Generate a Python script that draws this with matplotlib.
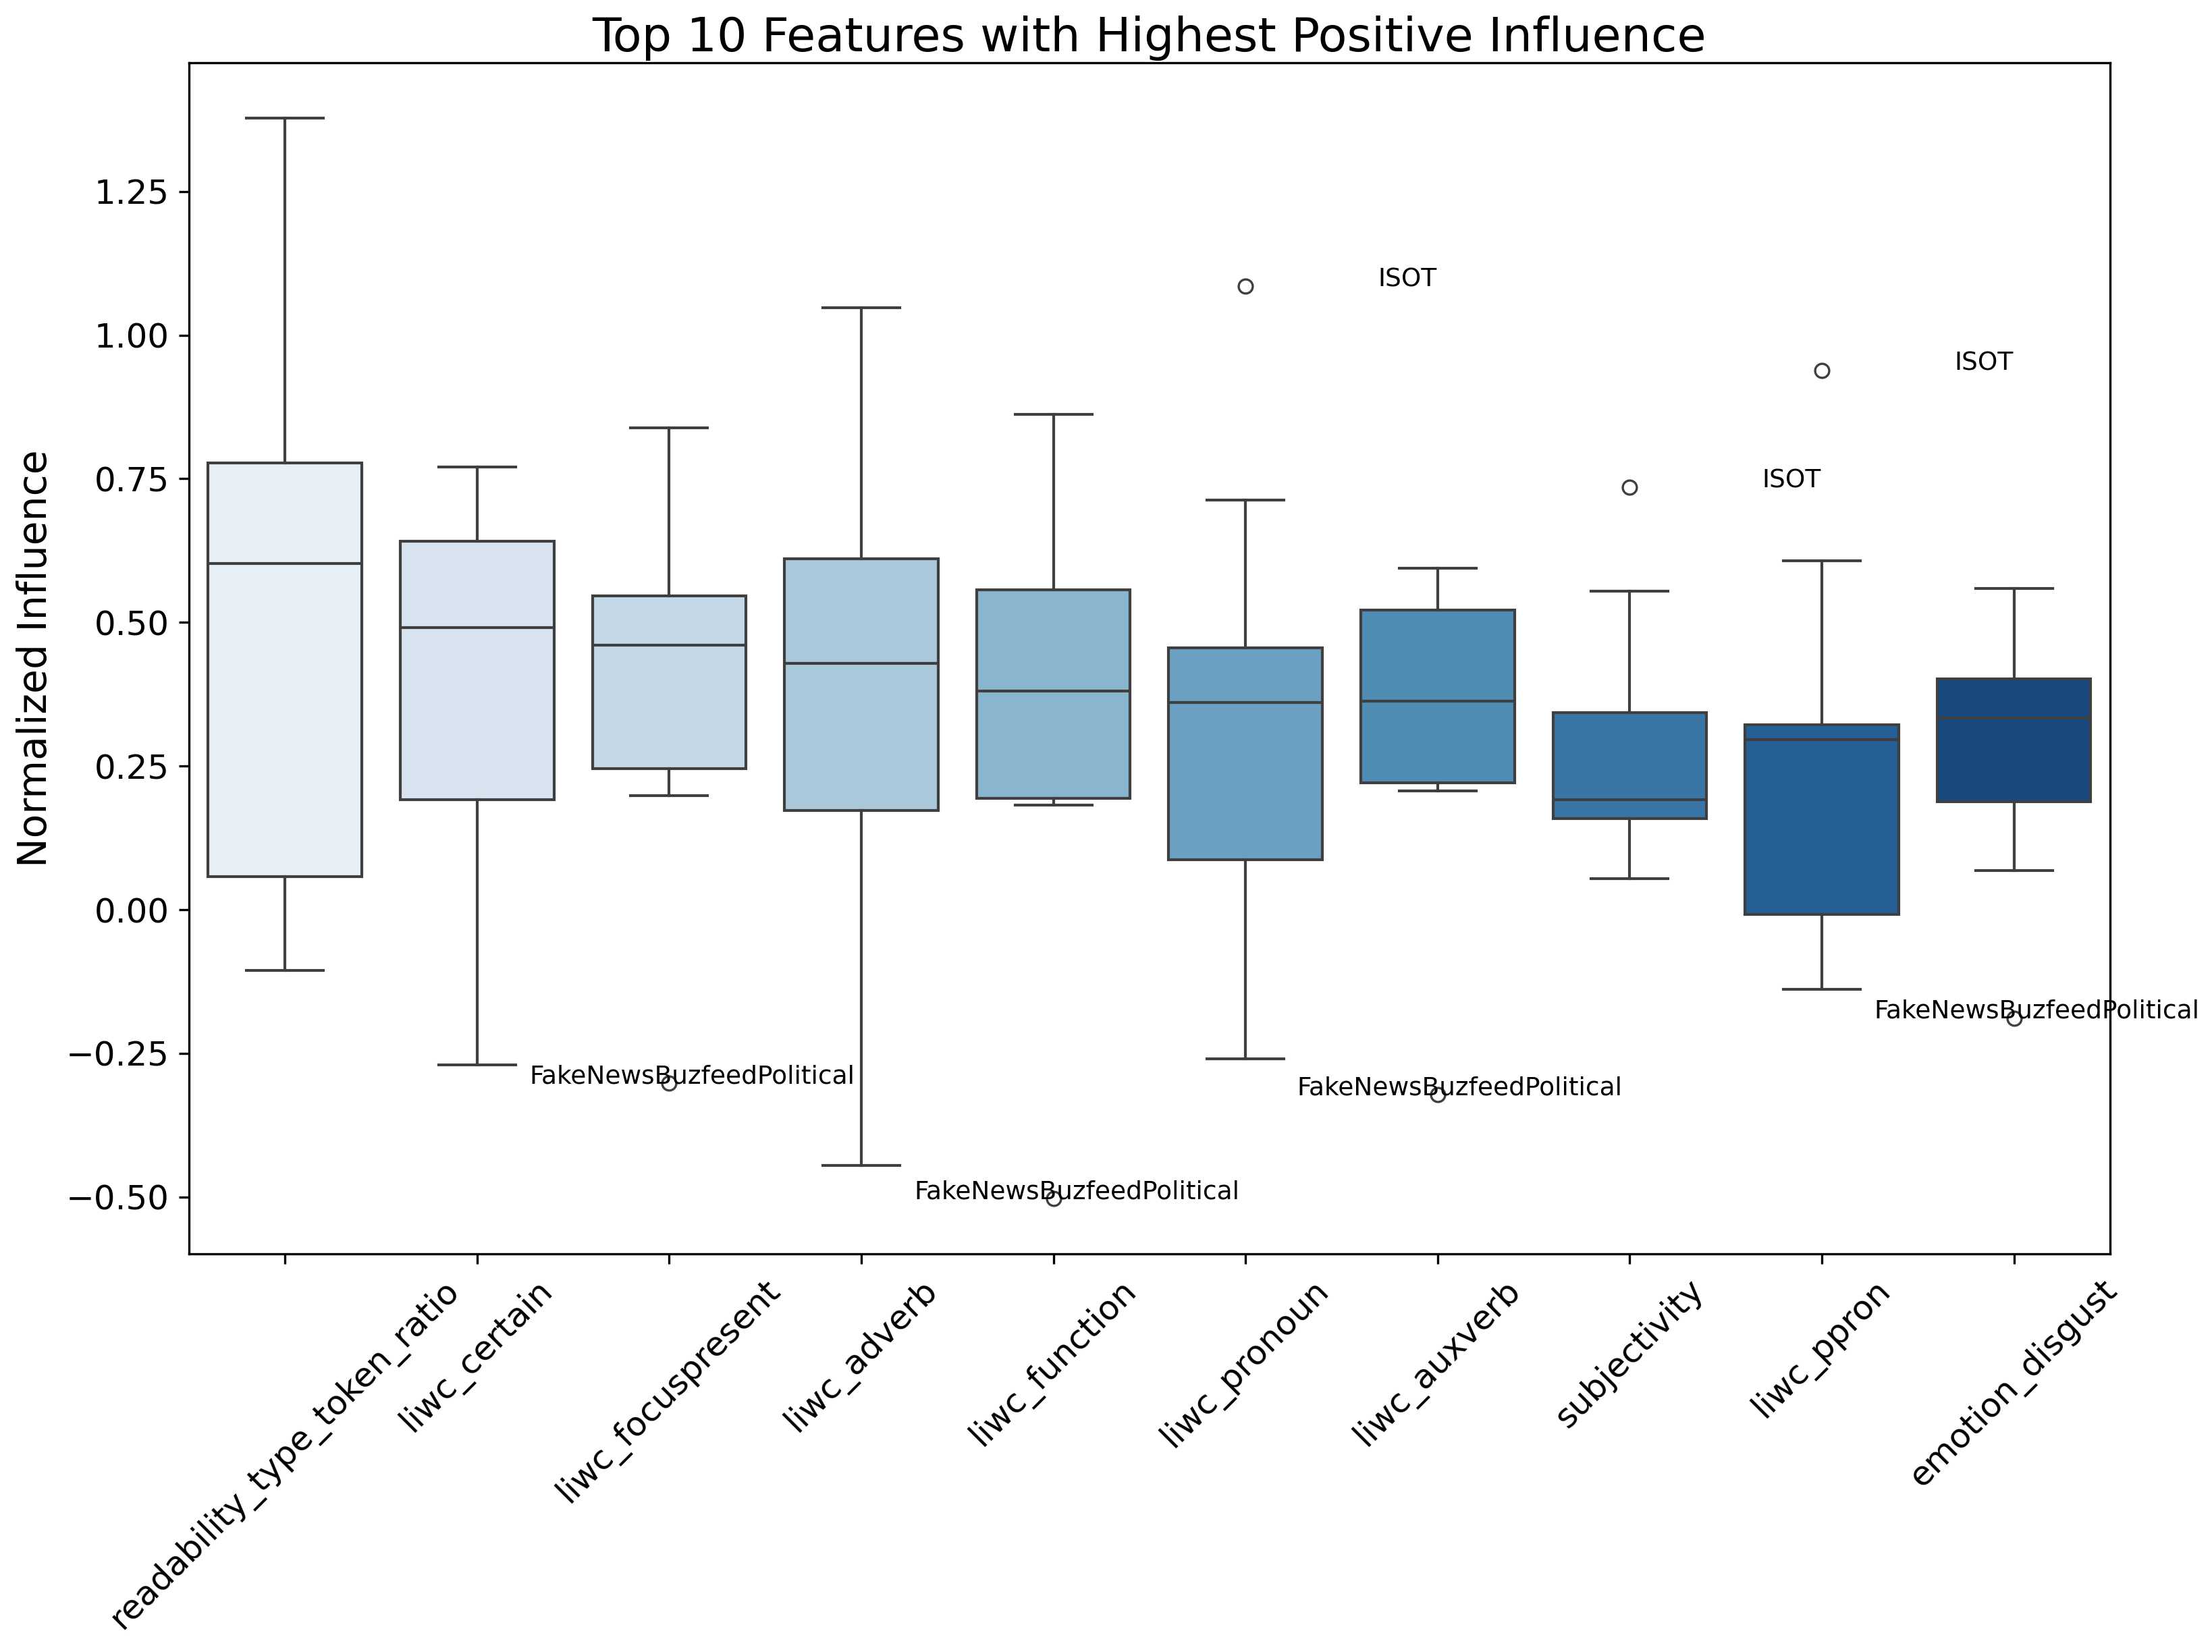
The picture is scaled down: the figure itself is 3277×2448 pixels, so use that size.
import numpy as np
import matplotlib
matplotlib.use('Agg')
import matplotlib.pyplot as plt
import seaborn as sns

# features, in plot order
features = ['readability_type_token_ratio', 'liwc_certain', 'liwc_focuspresent',
            'liwc_adverb', 'liwc_function', 'liwc_pronoun', 'liwc_auxverb',
            'subjectivity', 'liwc_ppron', 'emotion_disgust']

# box stats
whislo = [-0.106, -0.270, 0.199, -0.445, 0.182, -0.260, 0.207, 0.054, -0.138, 0.068]
q1     = [0.058, 0.191, 0.246, 0.173, 0.194, 0.087, 0.221, 0.159, -0.008, 0.188]
med    = [0.603, 0.491, 0.461, 0.429, 0.380, 0.361, 0.363, 0.191, 0.296, 0.334]
q3     = [0.778, 0.641, 0.546, 0.611, 0.557, 0.456, 0.521, 0.343, 0.322, 0.402]
whishi = [1.378, 0.771, 0.839, 1.048, 0.862, 0.713, 0.594, 0.554, 0.607, 0.559]

# outliers: (feature index, value, dataset label, text x)
out_idx   = [2, 4, 5, 6, 7, 8, 9]
out_val   = [-0.302, -0.503, 1.085, -0.322, 0.735, 0.939, -0.189]
out_name  = ['FakeNewsBuzfeedPolitical', 'FakeNewsBuzfeedPolitical', 'ISOT',
             'FakeNewsBuzfeedPolitical', 'ISOT', 'ISOT', 'FakeNewsBuzfeedPolitical']
out_textx = [1.273, 3.274, 5.688, 5.269, 7.690, 8.690, 8.271]

stats = []
for i in range(len(features)):
    fl = [v for j, v in zip(out_idx, out_val) if j == i]
    stats.append(dict(whislo=whislo[i], q1=q1[i], med=med[i], q3=q3[i],
                      whishi=whishi[i], fliers=fl))

colors = [sns.desaturate(c, 0.75) for c in sns.color_palette('Blues', len(features))]
lc = '#3f3f3f'

fig = plt.figure(figsize=(3277/300, 2448/300), dpi=300)
ax = fig.add_axes([0.0854, 0.241, 0.9539-0.0854, 0.962-0.241])

bp = ax.bxp(stats, positions=range(len(features)), widths=0.8, patch_artist=True,
            boxprops=dict(edgecolor=lc, linewidth=1.0),
            medianprops=dict(color=lc, linewidth=1.0),
            whiskerprops=dict(color=lc, linewidth=1.0),
            capprops=dict(color=lc, linewidth=1.0),
            flierprops=dict(marker='o', markerfacecolor='none', markeredgecolor=lc,
                            markersize=5, markeredgewidth=0.8),
            capwidths=0.4)
for patch, c in zip(bp['boxes'], colors):
    patch.set_facecolor(c)

for x, y, name in zip(out_textx, out_val, out_name):
    ax.text(x, y, name, fontsize=9)

ax.set_xlim(-0.5, len(features) - 0.5)
ax.set_ylim(-0.599, 1.474)
ax.set_yticks(np.arange(-0.5, 1.26, 0.25))
ax.set_xticks(range(len(features)))
ax.set_xticklabels(features, rotation=45, fontsize=12)
ax.tick_params(axis='y', labelsize=12)
ax.set_ylabel('Normalized Influence', fontsize=14)
ax.set_title('Top 10 Features with Highest Positive Influence', fontsize=16.8, pad=4)

fig.savefig('out.png', dpi=300)
